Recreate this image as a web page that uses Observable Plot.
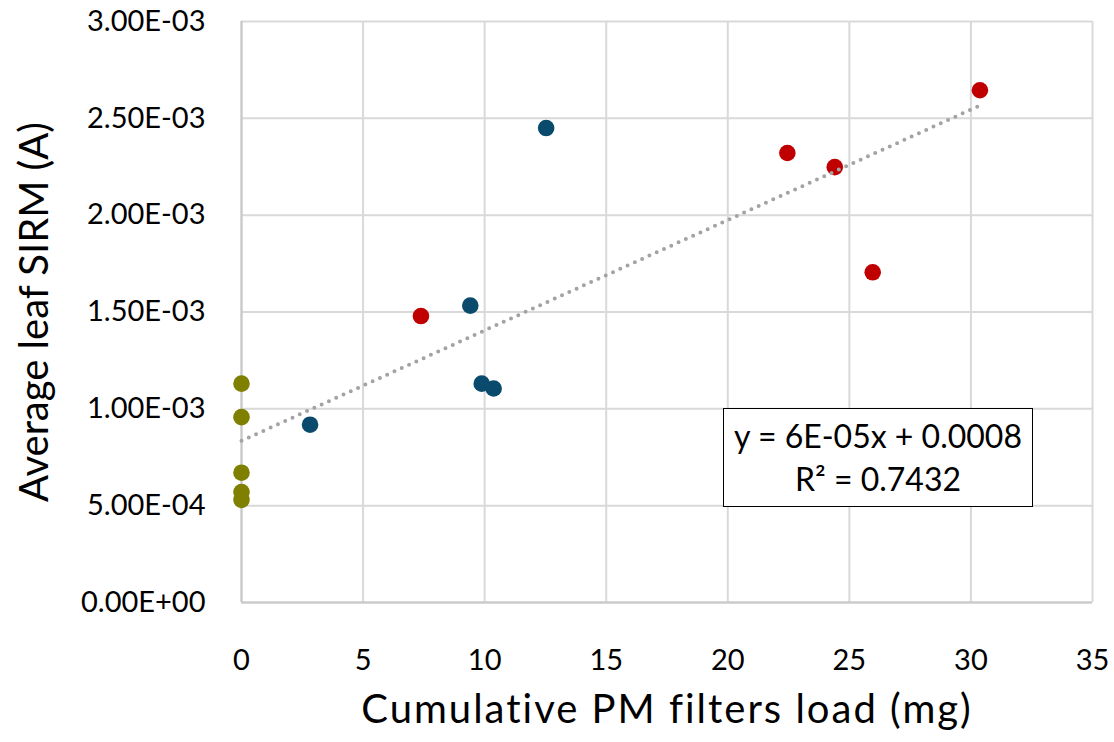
<!DOCTYPE html>
<html>
<head>
<meta charset="utf-8">
<script src="https://cdn.jsdelivr.net/npm/d3@7"></script>
<script src="https://cdn.jsdelivr.net/npm/@observablehq/plot@0.6"></script>
<style>
  html, body { margin: 0; padding: 0; background: #fff; }
  #wrap { position: relative; width: 1114px; height: 742px; font-family: Lato, "Open Sans", sans-serif; }
  #wrap svg { font-family: Lato, "Open Sans", sans-serif; }
  .chart g[aria-label="x-axis tick label"] text,
  .chart g[aria-label="y-axis tick label"] text { font-size: 29px; fill: #000; }
  .chart g[aria-label="x-axis label"] text { font-size: 40px; letter-spacing: 2px; fill: #000; }
  .chart g[aria-label="y-axis label"] text { font-size: 40px; fill: #000; }
  #eq {
    position: absolute; left: 723px; top: 408px; width: 310px; height: 99px;
    border: 1.5px solid #000; box-sizing: border-box; background: #fff;
    text-align: center; font-size: 32px; line-height: 43px; padding-top: 5px; color: #000;
  }
</style>
</head>
<body>
<div id="wrap"></div>
<script>
// Data
const groupNames = ["Group A", "Group B", "Group C"];
const groupAX = [0, 0, 0, 0, 0];
const groupAY = [1.130e-3, 0.957e-3, 0.670e-3, 0.570e-3, 0.530e-3];
const groupBX = [2.82, 9.41, 9.88, 10.37, 12.53];
const groupBY = [0.918e-3, 1.533e-3, 1.130e-3, 1.105e-3, 2.450e-3];
const groupCX = [7.38, 22.45, 24.40, 25.96, 30.37];
const groupCY = [1.479e-3, 2.321e-3, 2.248e-3, 1.705e-3, 2.645e-3];
const groupColors = ["#7f7f00", "#0a4a6c", "#c00000"];
const xTicks = [0, 5, 10, 15, 20, 25, 30, 35];
const yTicks = [0, 0.0005, 0.001, 0.0015, 0.002, 0.0025, 0.003];
const equationLines = ["y = 6E-05x + 0.0008", "R² = 0.7432"];

const points = [
  ...groupAX.map((x, i) => ({ x, y: groupAY[i], g: groupNames[0] })),
  ...groupBX.map((x, i) => ({ x, y: groupBY[i], g: groupNames[1] })),
  ...groupCX.map((x, i) => ({ x, y: groupCY[i], g: groupNames[2] }))
];

function fmtE(d) {
  if (d === 0) return "0.00E+00";
  const [m, e] = d.toExponential(2).split("e");
  const n = Math.abs(+e);
  return m + "E" + (+e < 0 ? "-" : "+") + String(n).padStart(2, "0");
}

const chart = Plot.plot({
  width: 1114,
  height: 742,
  marginLeft: 241,
  marginRight: 22,
  marginTop: 21,
  marginBottom: 140,
  className: "chart",
  x: { domain: [0, 35] },
  y: { domain: [0, 0.003] },
  color: { type: "ordinal", domain: groupNames, range: groupColors },
  marks: [
    Plot.gridX(xTicks, { stroke: "#d9d9d9", strokeOpacity: 1, strokeWidth: 2 }),
    Plot.gridY(yTicks, { stroke: "#d9d9d9", strokeOpacity: 1, strokeWidth: 2 }),
    Plot.ruleX([0], { stroke: "#c8c8c8", strokeWidth: 2 }),
    Plot.ruleY([0], { stroke: "#c8c8c8", strokeWidth: 2 }),
    Plot.axisX(xTicks, {
      tickSize: 0, tickPadding: 47,
      label: "Cumulative PM filters load (mg)", labelAnchor: "center", labelArrow: "none", labelOffset: 120
    }),
    Plot.axisY(yTicks, {
      tickSize: 0, tickPadding: 36, tickFormat: fmtE,
      label: "Average leaf SIRM (A)", labelAnchor: "center", labelArrow: "none", labelOffset: 222
    }),
    Plot.dot(points, { x: "x", y: "y", fill: "g", r: 8.3, stroke: "none" }),
    Plot.linearRegressionY(points, {
      x: "x", y: "y", ci: 0, stroke: "#a3a3a3", strokeWidth: 4,
      strokeDasharray: "0,8", strokeLinecap: "round"
    })
  ]
});

const wrap = document.getElementById("wrap");
wrap.appendChild(chart);
const eq = document.createElement("div");
eq.id = "eq";
eq.innerHTML = equationLines.join("<br>");
wrap.appendChild(eq);
</script>
</body>
</html>
